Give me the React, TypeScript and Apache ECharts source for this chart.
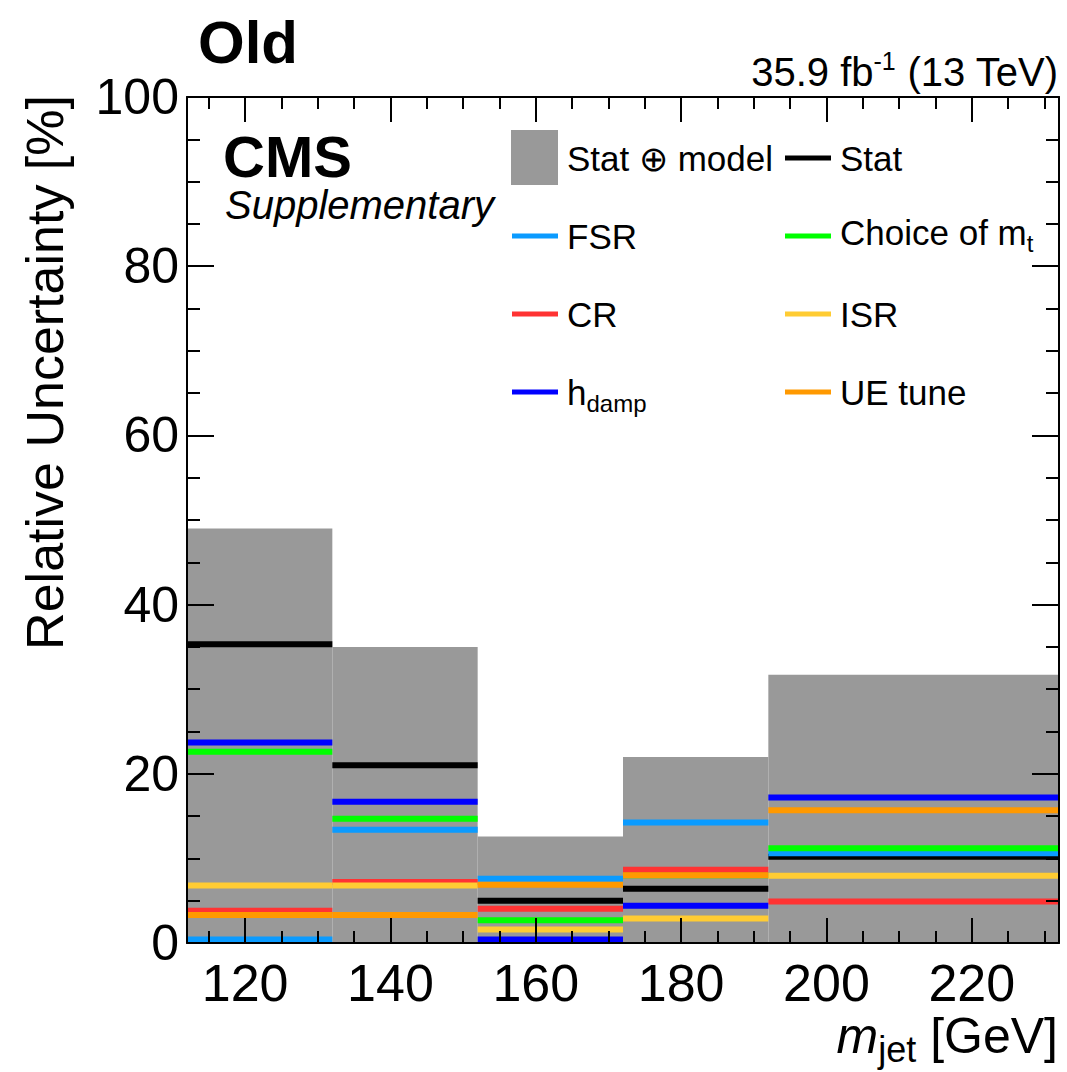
import React, { useEffect, useRef } from "react";
import * as echarts from "echarts";

// Bin edges (m_jet in GeV)
const binLow = [112, 132, 152, 172, 192];
const binHigh = [132, 152, 172, 192, 232];

// Relative uncertainties [%] per bin
const statModel = [49.0, 35.0, 12.6, 22.0, 31.7];
const stat = [35.3, 21.0, 5.0, 6.4, 10.2];
const fsr = [0.4, 13.4, 7.6, 14.25, 10.6];
const choiceMt = [22.6, 14.7, 2.7, 8.0, 11.2];
const cr = [3.8, 7.2, 4.05, 8.65, 4.9];
const isr = [6.8, 6.8, 1.6, 2.9, 7.95];
const hdamp = [23.7, 16.7, 0.4, 4.4, 17.2];
const ueTune = [3.3, 3.3, 6.9, 8.0, 15.7];

// Ticks
const xMajorTicks = [120, 140, 160, 180, 200, 220];
const xMinorTicks = [115, 125, 130, 135, 145, 150, 155, 165, 170, 175, 185, 190, 195, 205, 210, 215, 225, 230];

const FONT = "'Liberation Sans', Arial, Helvetica, sans-serif";

const COLORS = {
  model: "#999999",
  stat: "#000000",
  fsr: "#0b9bff",
  mt: "#00ff00",
  cr: "#ff3333",
  isr: "#ffcc33",
  hdamp: "#0000ff",
  ue: "#ff9900",
};

function binData(values: number[]) {
  return binLow.map((lo, i) => [lo, binHigh[i], values[i]]);
}

function boxSeries(name: string, values: number[], color: string) {
  return {
    type: "custom",
    name,
    data: binData(values),
    encode: { x: [0, 1], y: 2 },
    silent: true,
    renderItem: (_params: any, api: any) => {
      const a = api.coord([api.value(0), api.value(2)]);
      const b = api.coord([api.value(1), 0]);
      return {
        type: "rect",
        shape: { x: a[0], y: a[1], width: b[0] - a[0], height: b[1] - a[1] },
        style: { fill: color },
      };
    },
  };
}

function stepSeries(name: string, values: number[], color: string) {
  return {
    type: "custom",
    name,
    data: binData(values),
    encode: { x: [0, 1], y: 2 },
    silent: true,
    renderItem: (_params: any, api: any) => {
      const a = api.coord([api.value(0), api.value(2)]);
      const b = api.coord([api.value(1), api.value(2)]);
      return {
        type: "line",
        shape: { x1: a[0], y1: a[1], x2: b[0], y2: b[1] },
        style: { stroke: color, lineWidth: 6 },
      };
    },
  };
}

const axisLineStyle = { color: "#000", width: 2 };

function xAxisDef(position: "top" | "bottom", major: boolean) {
  return {
    type: "value",
    position,
    min: 112,
    max: 232,
    z: 10,
    axisLine: { show: major, onZero: false, lineStyle: axisLineStyle },
    axisTick: {
      show: true,
      inside: true,
      length: major ? 25 : 12,
      customValues: major ? xMajorTicks : xMinorTicks,
      lineStyle: { color: "#000", width: 2 },
    },
    axisLabel: {
      show: major && position === "bottom",
      customValues: xMajorTicks,
      fontFamily: FONT,
      fontSize: 52,
      color: "#000",
      margin: 14,
    },
    splitLine: { show: false },
  };
}

function yAxisDef(position: "left" | "right") {
  return {
    type: "value",
    position,
    min: 0,
    max: 100,
    interval: 20,
    z: 10,
    axisLine: { show: true, onZero: false, lineStyle: axisLineStyle },
    axisTick: { show: true, inside: true, length: 27, lineStyle: { color: "#000", width: 2 } },
    minorTick: { show: true, splitNumber: 4, length: 13, lineStyle: { color: "#000", width: 2 } },
    axisLabel: {
      show: position === "left",
      fontFamily: FONT,
      fontSize: 50,
      color: "#000",
      margin: 8,
    },
    splitLine: { show: false },
    minorSplitLine: { show: false },
  };
}

const legendRows = [
  { y: 158, left: { kind: "box", color: COLORS.model, text: "Stat ⊕ model" }, right: { color: COLORS.stat, text: "Stat" } },
  { y: 236, left: { kind: "line", color: COLORS.fsr, text: "FSR" }, right: { color: COLORS.mt, text: "Choice of m{sub|t}", rich: true } },
  { y: 314, left: { kind: "line", color: COLORS.cr, text: "CR" }, right: { color: COLORS.isr, text: "ISR" } },
  { y: 392, left: { kind: "line", color: COLORS.hdamp, text: "h{sub|damp}", rich: true }, right: { color: COLORS.ue, text: "UE tune" } },
];

export default function App() {
  const ref = useRef<HTMLDivElement>(null);

  useEffect(() => {
    document.body.style.margin = "0";
    if (!ref.current) return;
    const chart = echarts.init(ref.current, undefined, { renderer: "svg" });

    const legendEls: any[] = [];
    legendRows.forEach((row) => {
      if (row.left.kind === "box") {
        legendEls.push({
          type: "rect",
          shape: { x: 511, y: 130, width: 47, height: 55 },
          style: { fill: row.left.color },
        });
      } else {
        legendEls.push({
          type: "line",
          shape: { x1: 512, y1: row.y, x2: 558, y2: row.y },
          style: { stroke: row.left.color, lineWidth: 5 },
        });
      }
      legendEls.push({
        type: "text",
        x: 567,
        y: row.y,
        style: {
          text: row.left.text,
          fontFamily: FONT,
          fontSize: 35,
          fill: "#000",
          verticalAlign: "middle",
          align: "left",
          rich: { sub: { fontFamily: FONT, fontSize: 24, padding: [22, 0, 0, 0] } },
        },
      });
      legendEls.push({
        type: "line",
        shape: { x1: 785, y1: row.y, x2: 831, y2: row.y },
        style: { stroke: row.right.color, lineWidth: 5 },
      });
      legendEls.push({
        type: "text",
        x: 840,
        y: row.y - ((row.right as any).rich ? 4 : 0),
        style: {
          text: row.right.text,
          fontFamily: FONT,
          fontSize: 35,
          fill: "#000",
          verticalAlign: "middle",
          align: "left",
          rich: { sub: { fontFamily: FONT, fontSize: 24, padding: [22, 0, 0, 0] } },
        },
      });
    });

    const option: any = {
      animation: false,
      backgroundColor: "#fff",
      grid: { left: 187, right: 8, top: 97, bottom: 129, containLabel: false },
      xAxis: [xAxisDef("bottom", true), xAxisDef("bottom", false), xAxisDef("top", true), xAxisDef("top", false)],
      yAxis: [yAxisDef("left"), yAxisDef("right")],
      series: [
        boxSeries("Stat ⊕ model", statModel, COLORS.model),
        stepSeries("Stat", stat, COLORS.stat),
        stepSeries("FSR", fsr, COLORS.fsr),
        stepSeries("Choice of mt", choiceMt, COLORS.mt),
        stepSeries("CR", cr, COLORS.cr),
        stepSeries("ISR", isr, COLORS.isr),
        stepSeries("hdamp", hdamp, COLORS.hdamp),
        stepSeries("UE tune", ueTune, COLORS.ue),
      ],
      graphic: [
        {
          type: "text",
          x: 198,
          y: 42,
          style: { text: "Old", fontFamily: FONT, fontWeight: "bold", fontSize: 60, fill: "#000", verticalAlign: "middle" },
        },
        {
          type: "text",
          x: 1058,
          y: 72,
          style: {
            text: "35.9 fb{sup|-1} (13 TeV)",
            fontFamily: FONT,
            fontSize: 40,
            fill: "#000",
            align: "right",
            verticalAlign: "middle",
            rich: { sup: { fontFamily: FONT, fontSize: 25, padding: [0, 0, 22, 0] } },
          },
        },
        {
          type: "text",
          x: 223,
          y: 156,
          style: { text: "CMS", fontFamily: FONT, fontWeight: "bold", fontSize: 58, fill: "#000", verticalAlign: "middle" },
        },
        {
          type: "text",
          x: 225,
          y: 205,
          style: { text: "Supplementary", fontFamily: FONT, fontStyle: "italic", fontSize: 40, fill: "#000", verticalAlign: "middle" },
        },
        {
          type: "text",
          x: 45,
          y: 95,
          rotation: Math.PI / 2,
          style: {
            text: "Relative Uncertainty [%]",
            fontFamily: FONT,
            fontSize: 52,
            fill: "#000",
            align: "right",
            verticalAlign: "middle",
          },
        },
        {
          type: "text",
          x: 1058,
          y: 1036,
          style: {
            text: "{it|m}{sub|jet} [GeV]",
            fontFamily: FONT,
            fontSize: 50,
            fill: "#000",
            align: "right",
            verticalAlign: "middle",
            rich: {
              it: { fontFamily: FONT, fontStyle: "italic", fontSize: 50 },
              sub: { fontFamily: FONT, fontSize: 36, lineHeight: 36, padding: [26, 0, 0, 0] },
            },
          },
        },
        ...legendEls,
      ],
    };

    chart.setOption(option);
    return () => chart.dispose();
  }, []);

  return <div ref={ref} style={{ width: 1067, height: 1072 }} />;
}
